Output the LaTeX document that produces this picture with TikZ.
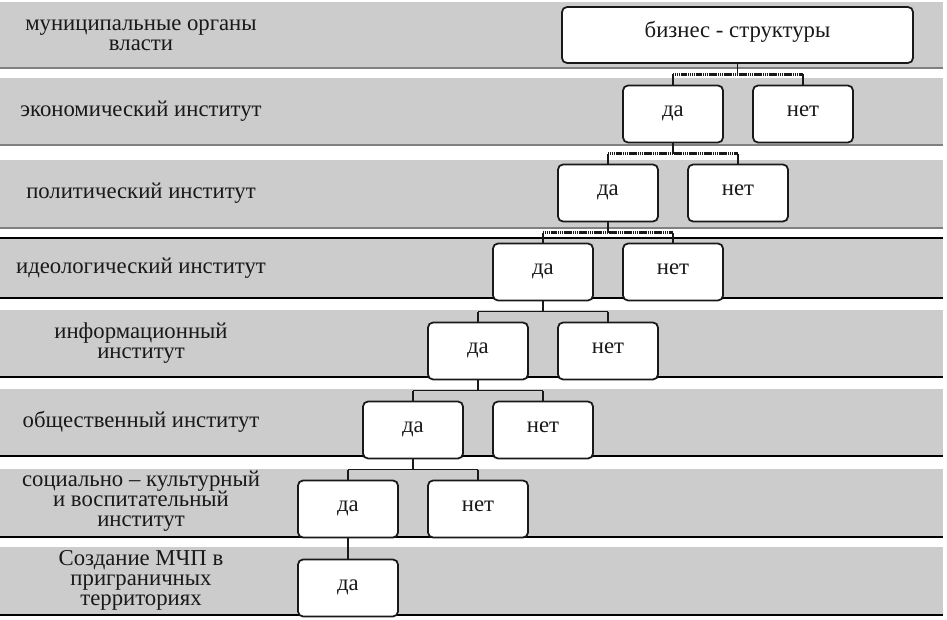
\documentclass[tikz,border=0pt]{standalone}
\usepackage{fontspec}
\setmainfont{Liberation Serif}
\usetikzlibrary{calc}
\definecolor{band}{gray}{0.8}
\definecolor{ink}{gray}{0.1}
\lineskiplimit=-20pt

\begin{document}
\begin{tikzpicture}[x=0.3mm,y=-0.3mm,font=\fontsize{19.4}{17}\selectfont,text=ink,
    box/.style={draw=ink,line width=1.5pt,rounded corners=1.5mm,fill=white,
        minimum width=30mm,minimum height=17.1mm,inner sep=0pt,text height=0.7em,text depth=0.2em},
    conn/.style={draw=ink,line width=1.5pt},
    hatch/.style={conn,line width=2.2pt,dash pattern=on 1.1pt off 0.5pt}]
    \useasboundingbox (0,0) rectangle (947,620);
    \foreach \ya/\yb/\lc in {2/68/gray,78/145/gray,160/228/gray,238/298/black,
            310/377/black,389/456/black,469/537/black,547/615/black}
        {
        \fill [band] (0,\ya) rectangle (943,\yb);
        \draw [\lc,line width=1pt] (0,\yb) -- (943,\yb);
        }
    \draw [black,line width=1pt] (0,238) -- (943,238);
    \foreach \y/\txt [count=\i] in {35/{муниципальные органы\\власти},
            111/{экономический институт},193/{политический институт},
            268/{идеологический институт},343/{информационный\\институт},
            422/{общественный институт},
            501/{социально -- культурный\\и воспитательный\\институт},
            580/{Создание МЧП в\\приграничных\\территориях}}
        \node [align=center,inner sep=0pt] (lab\i) at (141,\y) {\txt};
    \node [box,minimum width=105.3mm,minimum height=16.8mm] (biz) at (737.5,35) {бизнес - структуры};
    \foreach \k in {2,...,7}
        {
        \node [box] (da\k) at ({673-65*(\k-2)},{114+79*(\k-2)}) {да};
        \node [box] (net\k) at ({803-65*(\k-2)},{114+79*(\k-2)}) {нет};
        }
    \node [box] (da8) at (348,588) {да};
    \foreach \p/\k/\st in {biz/2/hatch,da2/3/hatch,da3/4/hatch,da4/5/conn,da5/6/conn,da6/7/conn}
        {
        \coordinate (j\k) at ($(\p.south)!.5!(da\k.north)$);
        \draw [conn] (\p.south) -- (\p.south |- j\k);
        \draw [conn] (da\k.north) -- (da\k.north |- j\k);
        \draw [conn] (net\k.north) -- (net\k.north |- j\k);
        \draw [\st] (da\k.north |- j\k) -- (net\k.north |- j\k);
        }
    \draw [conn] (da7.south) -- (da8.north);
\end{tikzpicture}
\end{document}
